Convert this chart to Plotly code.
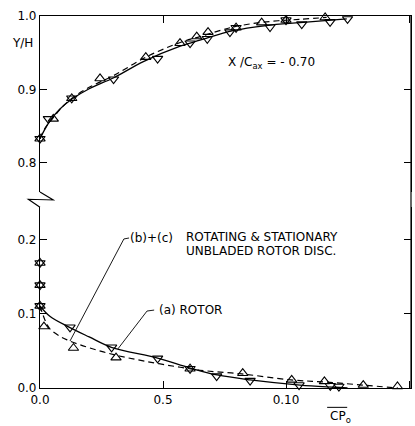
import plotly.graph_objects as go

# ---------------- data ----------------
# Upper panel (Y/H 0.8 - 1.0)
top_rotor_x = [0.0, 0.0034, 0.0129, 0.0299, 0.0478, 0.061, 0.068, 0.0772, 0.0797, 0.0935, 0.100, 0.1064, 0.1179, 0.125]
top_rotor_y = [0.833, 0.860, 0.888, 0.914, 0.942, 0.963, 0.969, 0.978, 0.984, 0.985, 0.9945, 0.989, 0.992, 0.996]
top_disc_x = [0.0, 0.0054, 0.0129, 0.0244, 0.043, 0.0569, 0.0637, 0.0683, 0.0797, 0.0901, 0.100, 0.1159]
top_disc_y = [0.833, 0.860, 0.888, 0.915, 0.944, 0.963, 0.972, 0.978, 0.984, 0.991, 0.9945, 0.998]

top_rotor_fit_x = [0.0, 0.002, 0.004, 0.008, 0.013, 0.020, 0.030, 0.042, 0.057, 0.065, 0.0785, 0.092, 0.1057, 0.1247]
top_rotor_fit_y = [0.833, 0.846, 0.857, 0.873, 0.887, 0.901, 0.916, 0.938, 0.959, 0.967, 0.980, 0.987, 0.991, 0.996]
top_disc_fit_x = [0.0, 0.002, 0.005, 0.009, 0.013, 0.020, 0.030, 0.043, 0.057, 0.065, 0.0785, 0.092, 0.1057, 0.1165]
top_disc_fit_y = [0.833, 0.847, 0.860, 0.876, 0.888, 0.903, 0.919, 0.944, 0.964, 0.972, 0.985, 0.992, 0.9955, 0.998]

# Lower panel (Y/H 0.0 - 0.2)
bot_rotor_x = [0.0, 0.0, 0.0, 0.0122, 0.0291, 0.0478, 0.061, 0.0718, 0.0854, 0.1053, 0.1180, 0.1215]
bot_rotor_y = [0.169, 0.139, 0.111, 0.082, 0.055, 0.040, 0.026, 0.016, 0.010, 0.004, 0.003, 0.002]
bot_disc_x = [0.0, 0.0, 0.0, 0.0016, 0.0136, 0.0309, 0.061, 0.0824, 0.1023, 0.1156, 0.1314, 0.1453]
bot_disc_y = [0.169, 0.139, 0.111, 0.083, 0.054, 0.041, 0.026, 0.020, 0.011, 0.009, 0.004, 0.002]

bot_rotor_fit_x = [0.0, 0.004, 0.012, 0.020, 0.029, 0.0478, 0.061, 0.072, 0.0854, 0.1057, 0.120, 0.125]
bot_rotor_fit_y = [0.111, 0.097, 0.082, 0.069, 0.055, 0.0405, 0.027, 0.0176, 0.011, 0.004, 0.001, 0.0]
bot_disc_fit_x = [0.0, 0.002, 0.004, 0.008, 0.011, 0.0175, 0.030, 0.043, 0.057, 0.065, 0.082, 0.102, 0.116, 0.131, 0.1455]
bot_disc_fit_y = [0.111, 0.092, 0.080, 0.070, 0.065, 0.057, 0.045, 0.036, 0.028, 0.024, 0.019, 0.011, 0.008, 0.004, 0.0]

x_tick_vals = [0.0, 0.05, 0.10, 0.15]
x_tick_text = ["0.0", "0.5", "0.10", "0.15"]
top_tick_vals = [0.8, 0.9, 1.0]
top_tick_text = ["0.8", "0.9", "1.0"]
bot_tick_vals = [0.0, 0.1, 0.2]
bot_tick_text = ["0.0", "0.1", "0.2"]

# ---------------- figure ----------------
FONT = dict(family="DejaVu Sans", size=12, color="black")
fig = go.Figure()

def add_panel(xa, ya, fx_r, fy_r, fx_d, fy_d, mx_r, my_r, mx_d, my_d):
    fig.add_trace(go.Scatter(x=fx_r, y=fy_r, mode="lines", line=dict(color="black", width=1.3, shape="spline"),
                             xaxis=xa, yaxis=ya, hoverinfo="skip"))
    fig.add_trace(go.Scatter(x=fx_d, y=fy_d, mode="lines", line=dict(color="black", width=1.2, dash="6px,4px", shape="spline"),
                             xaxis=xa, yaxis=ya, hoverinfo="skip"))
    fig.add_trace(go.Scatter(x=mx_r, y=my_r, mode="markers",
                             marker=dict(symbol="triangle-down-open", size=9, color="black", line=dict(width=1.1)),
                             xaxis=xa, yaxis=ya, cliponaxis=False))
    fig.add_trace(go.Scatter(x=mx_d, y=my_d, mode="markers",
                             marker=dict(symbol="triangle-up-open", size=9, color="black", line=dict(width=1.1)),
                             xaxis=xa, yaxis=ya, cliponaxis=False))

add_panel("x2", "y2", top_rotor_fit_x, top_rotor_fit_y, top_disc_fit_x, top_disc_fit_y,
          top_rotor_x, top_rotor_y, top_disc_x, top_disc_y)
add_panel("x", "y", bot_rotor_fit_x, bot_rotor_fit_y, bot_disc_fit_x, bot_disc_fit_y,
          bot_rotor_x, bot_rotor_y, bot_disc_x, bot_disc_y)

XR = [0.0, 0.1508]
axis_common = dict(showgrid=False, zeroline=False, showline=True, linecolor="black", linewidth=1.2,
                   ticks="inside", ticklen=7, tickcolor="black", tickwidth=1, tickfont=FONT)

fig.update_layout(
    width=415, height=426,
    margin=dict(l=40, r=4, t=16, b=38),
    paper_bgcolor="white", plot_bgcolor="white",
    showlegend=False,
    font=FONT,
    xaxis=dict(domain=[0, 1], anchor="y", range=XR, tickvals=x_tick_vals, ticktext=x_tick_text, **axis_common),
    xaxis2=dict(domain=[0, 1], anchor="y2", matches="x", range=XR, side="top", tickvals=x_tick_vals,
                showticklabels=False, **axis_common),
    yaxis=dict(domain=[0, 0.4866], anchor="x", range=[0, 0.2446], tickvals=bot_tick_vals, ticktext=bot_tick_text,
               mirror="ticks", **axis_common),
    yaxis2=dict(domain=[0.527, 1], anchor="x2", range=[0.7605, 1.0], tickvals=top_tick_vals, ticktext=top_tick_text,
                mirror="ticks", **axis_common),
)

# frame on the right (continuous) and the axis break zig-zag
fig.add_shape(type="line", xref="paper", yref="paper", x0=1, x1=1, y0=0, y1=1,
              line=dict(color="black", width=1.2))
fig.add_shape(type="path", xref="paper", yref="paper",
              path="M 0 0.527 L 0.0358 0.5054 L -0.0315 0.5073 L 0 0.4858",
              line=dict(color="black", width=1.1))

# leader lines
fig.add_shape(type="path", xref="x", yref="y",
              path="M 0.0362 0.2027 L 0.0341 0.2014 L 0.0122 0.0635",
              line=dict(color="black", width=0.9))
fig.add_shape(type="path", xref="x", yref="y",
              path="M 0.0464 0.1053 L 0.0435 0.1040 L 0.0317 0.0530",
              line=dict(color="black", width=0.9))

# texts
fig.add_annotation(xref="paper", yref="y2", x=-0.048, y=0.963, text="Y/H", showarrow=False,
                   font=FONT, xanchor="center", yanchor="middle")
fig.add_annotation(xref="x2", yref="y2", x=0.0939, y=0.936, text="X /C<sub>ax</sub> = - 0.70", showarrow=False,
                   font=FONT, xanchor="center", yanchor="middle")
fig.add_annotation(xref="x", yref="y", x=0.0358, y=0.2027, text="(b)+(c)", showarrow=False,
                   font=FONT, xanchor="left", yanchor="middle")
fig.add_annotation(xref="x", yref="y", x=0.0585, y=0.2035, text="ROTATING &amp; STATIONARY", showarrow=False,
                   font=FONT, xanchor="left", yanchor="middle")
fig.add_annotation(xref="x", yref="y", x=0.0585, y=0.1855, text="UNBLADED ROTOR DISC.", showarrow=False,
                   font=FONT, xanchor="left", yanchor="middle")
fig.add_annotation(xref="x", yref="y", x=0.0476, y=0.105, text="(a) ROTOR", showarrow=False,
                   font=FONT, xanchor="left", yanchor="middle")
fig.add_annotation(xref="paper", yref="paper", x=0.775, y=-0.078, text="CP<sub>o</sub>", showarrow=False,
                   font=FONT, xanchor="left", yanchor="middle")
fig.add_shape(type="line", xref="paper", yref="paper", x0=0.774, x1=0.828, y0=-0.052, y1=-0.052,
              line=dict(color="black", width=1))

fig.write_html("out.html", config={"displayModeBar": False},
               post_script="document.body.style.margin='0';")
